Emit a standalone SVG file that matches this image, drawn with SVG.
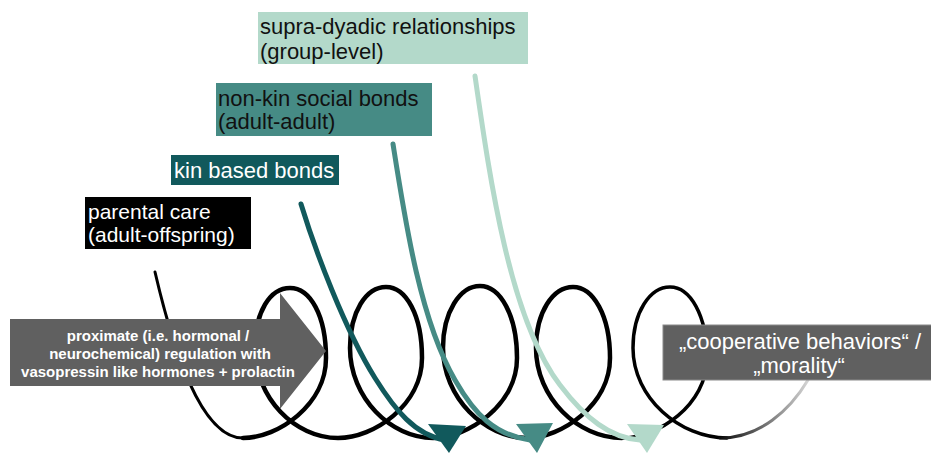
<svg xmlns="http://www.w3.org/2000/svg" width="931" height="454" viewBox="0 0 931 454">
<style>
.lbl{font-family:"Liberation Sans",Arial,sans-serif;font-size:22px}
.blk{fill:none;stroke:#000;stroke-linecap:round;stroke-linejoin:round}
.arr{fill:none;stroke-linecap:round;stroke-width:5}
.wt{font-family:"Liberation Sans",Arial,sans-serif;fill:#fff}
</style>
<defs>
<linearGradient id="fade" gradientUnits="userSpaceOnUse" x1="715" y1="0" x2="810" y2="0">
<stop offset="0" stop-color="#000"/>
<stop offset="1" stop-color="#d8d8d8"/>
</linearGradient>
</defs>
<g id="connectors">
<path class="blk" stroke-width="3" d="M155,272 C172,345 200,438 243,438"/>
<path class="blk" stroke-width="4.5" d="M243,438 C278,438 326,405 326,358 C326,315 310,288 290,288 C270,288 255,312 255,348 C255,398 295,438 338,438 C374,438 422,405 422,358 C422,315 406,287 386,287 C366,287 350,312 350,348 C350,398 391,438 433,438 C468,438 517,405 517,358 C517,315 500,286 480,286 C460,286 443,312 443,348 C443,398 485,438 527,438 C561,438 610,405 610,358 C610,315 593,287 573,287 C553,287 536,312 536,348 C536,398 578,438 622,438"/>
<path class="blk" stroke-width="3.5" d="M622,438 C658,438 707,405 707,358 C707,315 690,287 670,287 C650,287 633,312 633,348 C633,398 680,438 727,438"/>
<path fill="none" stroke="url(#fade)" stroke-width="3" stroke-linecap="round" d="M720,438 C760,438 790,410 808,380"/>
</g>
<g id="regulation">
<polygon points="10,319 280,319 280,293 326,351 280,409 280,386 10,386" fill="#606060"/>
<text class="wt" font-size="15" font-weight="bold" text-anchor="middle"><tspan x="158" y="341">proximate (i.e. hormonal /</tspan><tspan x="160" y="359">neurochemical) regulation with</tspan><tspan x="158" y="377">vasopressin like hormones + prolactin</tspan></text>
</g>
<g id="arrows">
<path class="arr" stroke="#11595c" d="M301,204 C315,250 345,330 375,378 C395,410 415,435 445,440"/>
<polygon points="428,424 466,426 449,453" fill="#11595c"/>
<path class="arr" stroke="#468b85" d="M393,144 C405,220 420,320 455,380 C475,415 495,435 530,440"/>
<polygon points="516,424 553,423 537,453" fill="#468b85"/>
<path class="arr" stroke="#b3d9ca" d="M475,76 C490,180 510,320 560,385 C585,418 610,438 640,440"/>
<polygon points="627,424 664,425 647,453" fill="#b3d9ca"/>
</g>
<g id="outcome">
<rect x="663" y="325" width="270" height="55" fill="#606060" stroke="#8a8a8a" stroke-width="1"/>
<text class="wt" font-size="22" text-anchor="middle"><tspan x="800" y="349">„cooperative behaviors“ /</tspan><tspan x="799" y="373">„morality“</tspan></text>
</g>
<g id="supra-dyadic">
<rect x="258" y="12" width="270" height="52" fill="#b3d9ca"/>
<text class="lbl" fill="#111"><tspan x="260" y="34">supra-dyadic relationships</tspan><tspan x="260" y="59">(group-level)</tspan></text>
</g>
<g id="non-kin">
<rect x="216" y="83" width="216" height="53" fill="#468b85"/>
<text class="lbl" fill="#111"><tspan x="218" y="106">non-kin social bonds</tspan><tspan x="218" y="129">(adult-adult)</tspan></text>
</g>
<g id="kin">
<rect x="171" y="155" width="168" height="30" fill="#11595c"/>
<text class="lbl" fill="#fff" x="174" y="178">kin based bonds</text>
</g>
<g id="parental">
<rect x="85" y="197" width="166" height="52" fill="#000"/>
<text class="lbl" fill="#fff" style="font-size:21px"><tspan x="88" y="219">parental care</tspan><tspan x="88" y="242">(adult-offspring)</tspan></text>
</g>
</svg>
